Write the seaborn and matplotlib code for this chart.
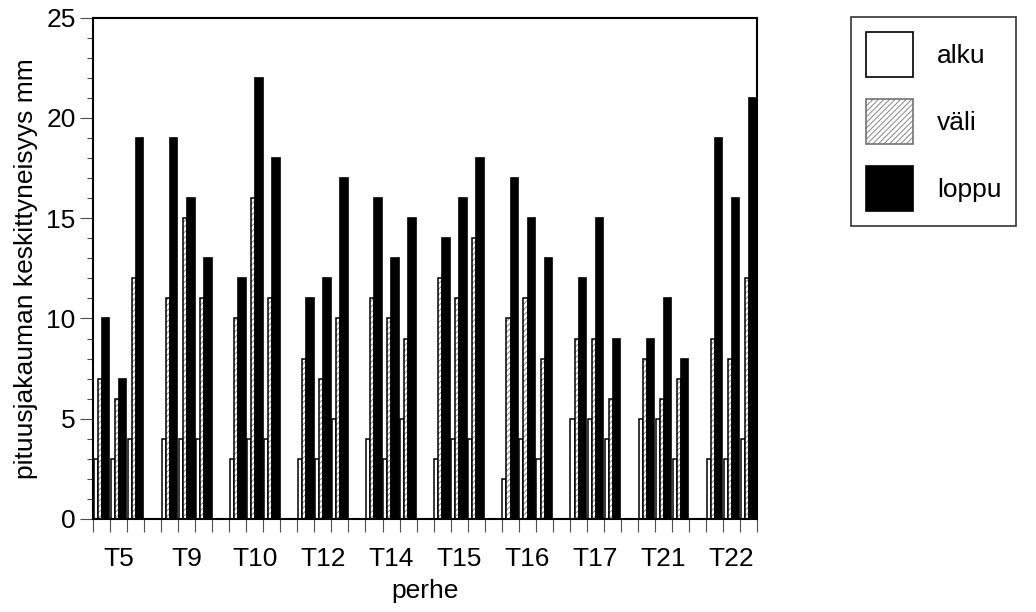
import numpy as np
import pandas as pd
import matplotlib
matplotlib.use('Agg')
import matplotlib.pyplot as plt
import seaborn as sns
from matplotlib.patches import Patch

# -------------------------------------------------------
# Data: 10 families, three sub-groups each (alku / väli / loppu)
# -------------------------------------------------------
families = ['T5', 'T9', 'T10', 'T12', 'T14', 'T15', 'T16', 'T17', 'T21', 'T22']
alku  = [3, 3, 4,   4, 4, 4,   3, 4, 4,   3, 3, 5,   4, 3, 5,
         3, 4, 4,   2, 4, 3,   5, 5, 4,   5, 5, 3,   3, 3, 4]
vali  = [7, 6, 12,  11, 15, 11,  10, 16, 11,  8, 7, 10,  11, 10, 9,
         12, 11, 14,  10, 11, 8,  9, 9, 6,  8, 6, 7,  9, 8, 12]
loppu = [10, 7, 19,  19, 16, 13,  12, 22, 18,  11, 12, 17,  16, 13, 15,
         14, 16, 18,  17, 15, 13,  12, 15, 9,  9, 11, 8,  19, 16, 21]
legend_labels = ['alku', 'väli', 'loppu']

n_sub = 3
slot = np.array([f * (n_sub + 1) + k for f in range(len(families)) for k in range(n_sub)])
df = pd.DataFrame({'slot': slot, 'alku': alku, 'vali': vali, 'loppu': loppu})

sns.set_style('ticks')
plt.rcParams['font.family'] = ['Liberation Sans', 'DejaVu Sans']
plt.rcParams['hatch.linewidth'] = 0.6
plt.rcParams['text.color'] = 'black'
plt.rcParams['axes.labelcolor'] = 'black'
plt.rcParams['xtick.labelcolor'] = 'black'
plt.rcParams['ytick.labelcolor'] = 'black'
fs = 19

fig = plt.figure(figsize=(10.36, 6.12), dpi=100)
ax = fig.add_axes([0.0898, 0.152, 0.641, 0.819])

# alku: white bars
sns.barplot(x=df['slot'] + 0.16, y=df['alku'], native_scale=True, orient='x',
            width=0.24, color='white', edgecolor='black', linewidth=1.1,
            errorbar=None, ax=ax)
n0 = len(ax.patches)
# väli: hatched bars (hatch in grey, outline drawn separately)
sns.barplot(x=df['slot'] + 0.40, y=df['vali'], native_scale=True, orient='x',
            width=0.24, color='white', edgecolor='0.45', linewidth=0,
            errorbar=None, ax=ax)
for p in ax.patches[n0:]:
    p.set_hatch('//////')
sns.barplot(x=df['slot'] + 0.40, y=df['vali'], native_scale=True, orient='x',
            width=0.24, fill=False, edgecolor='black', linewidth=1.1,
            errorbar=None, ax=ax)
# loppu: black bars
sns.barplot(x=df['slot'] + 0.74, y=df['loppu'], native_scale=True, orient='x',
            width=0.44, color='black', edgecolor='black', linewidth=1.2,
            errorbar=None, ax=ax)

# -------------------------------------------------------
# Axes styling
# -------------------------------------------------------
n_slots = len(families) * (n_sub + 1) - 1
ax.set_xlim(0, n_slots)
ax.set_ylim(0, 25)
for s in ax.spines.values():
    s.set_linewidth(1.5)
    s.set_color('black')

ax.set_yticks(np.arange(0, 26, 5))
ax.set_yticks(np.arange(0, 26, 1), minor=True)
ax.tick_params(axis='y', which='major', length=9.5, width=0.8, pad=3, labelsize=fs, color='0.3')
ax.tick_params(axis='y', which='minor', length=4.5, width=0.8, color='0.3')

ax.set_xticks(np.arange(0, n_slots + 1))
ax.set_xticklabels([])
ax.set_xticks([f * (n_sub + 1) + 1.5 for f in range(len(families))], minor=True)
ax.set_xticklabels(families, minor=True)
ax.tick_params(axis='x', which='major', length=9.5, width=0.8, color='0.3')
ax.tick_params(axis='x', which='minor', length=0, pad=20, labelsize=fs)

ax.set_xlabel('perhe', fontsize=fs, labelpad=6)
ax.set_ylabel('pituusjakauman keskittyneisyys mm', fontsize=fs, labelpad=6)

# -------------------------------------------------------
# Legend
# -------------------------------------------------------
handles = [Patch(facecolor='white', edgecolor='black', linewidth=1.2),
           Patch(facecolor='white', edgecolor='0.45', hatch='//////', linewidth=1.2),
           Patch(facecolor='black', edgecolor='black', linewidth=1.2)]
fig.legend(handles, legend_labels, loc='upper left', bbox_to_anchor=(851 / 1036, 1 - 17 / 612),
           fontsize=fs, frameon=True, fancybox=False, edgecolor='black',
           handlelength=1.8, handleheight=2.3, handletextpad=0.9,
           labelspacing=0.8, borderpad=0.55, borderaxespad=0)
fig.legends[0].get_frame().set_linewidth(1.2)

plt.savefig('out.png', dpi=100)
plt.close()
